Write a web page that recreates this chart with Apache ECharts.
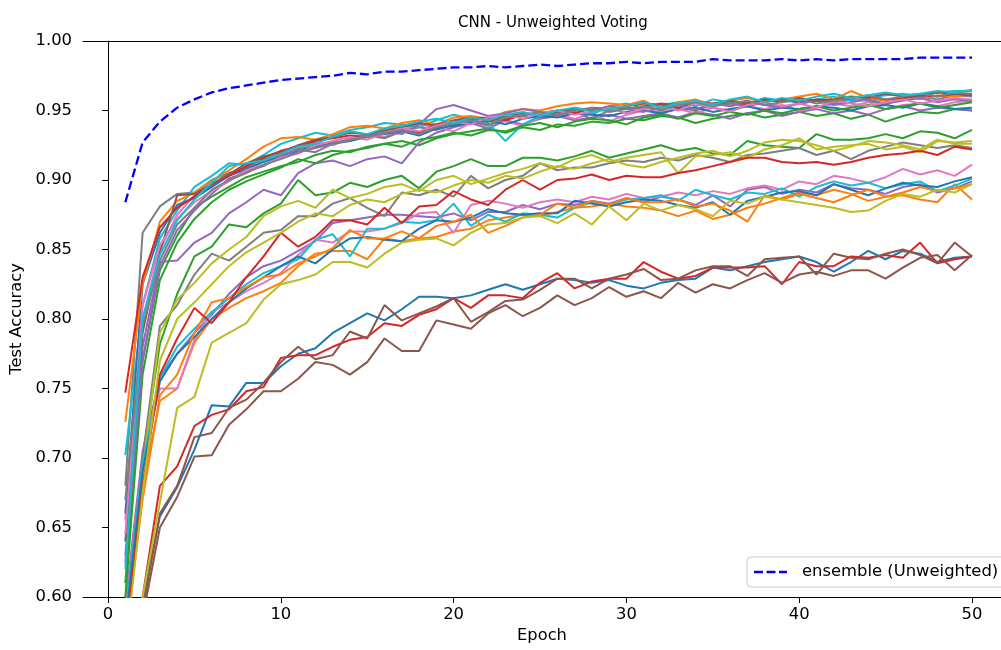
<!DOCTYPE html>
<html>
<head>
<meta charset="utf-8">
<title>CNN - Unweighted Voting</title>
<script src="https://cdn.jsdelivr.net/npm/echarts@6/dist/echarts.min.js"></script>
<style>
	html,body{margin:0;padding:0;background:#fff;}
	#chart{width:1001px;height:650px;}
</style>
</head>
<body>
<div id="chart"></div>
<script>
	var epochs = [1,2,3,4,5,6,7,8,9,10,11,12,13,14,15,16,17,18,19,20,21,22,23,24,25,
		26,27,28,29,30,31,32,33,34,35,36,37,38,39,40,41,42,43,44,45,46,47,48,49,50];

	var xTicks = [0,10,20,30,40,50];

	// ensemble accuracy per epoch
	var ensembleAcc = [0.884,0.927,0.942,0.952,0.958,0.963,0.966,0.968,0.970,0.972,
		0.973,0.974,0.975,0.977,0.976,0.978,0.978,0.979,0.980,0.981,
		0.981,0.982,0.981,0.982,0.983,0.982,0.983,0.984,0.984,0.985,
		0.984,0.985,0.985,0.985,0.987,0.986,0.986,0.986,0.987,0.986,
		0.987,0.986,0.987,0.987,0.987,0.987,0.988,0.988,0.988,0.988];

	// single models, in plotting order
	var m01 = [0.420,0.597,0.658,0.679,0.706,0.738,0.737,0.754,0.754,0.766,
		0.775,0.779,0.790,0.797,0.804,0.799,0.807,0.816,0.816,0.815,
		0.817,0.821,0.825,0.821,0.825,0.829,0.828,0.826,0.828,0.824,
		0.822,0.826,0.828,0.829,0.837,0.835,0.838,0.841,0.843,0.845,
		0.841,0.834,0.841,0.849,0.843,0.849,0.847,0.841,0.844,0.845];
	var m02 = [0.575,0.680,0.741,0.750,0.783,0.800,0.808,0.815,0.820,0.826,
		0.838,0.847,0.849,0.849,0.843,0.858,0.856,0.858,0.859,0.863,
		0.865,0.871,0.873,0.875,0.874,0.877,0.880,0.881,0.883,0.881,
		0.880,0.878,0.874,0.878,0.872,0.875,0.880,0.883,0.887,0.891,
		0.889,0.893,0.890,0.885,0.888,0.889,0.886,0.884,0.897,0.886];
	var m03 = [0.590,0.700,0.782,0.818,0.845,0.852,0.868,0.866,0.876,0.883,
		0.900,0.889,0.891,0.898,0.895,0.900,0.903,0.894,0.906,0.910,
		0.915,0.910,0.910,0.916,0.916,0.914,0.917,0.921,0.916,0.919,
		0.922,0.925,0.921,0.923,0.919,0.918,0.928,0.925,0.924,0.923,
		0.933,0.929,0.929,0.930,0.933,0.930,0.935,0.934,0.930,0.936];
	var m04 = [0.450,0.600,0.680,0.694,0.723,0.731,0.735,0.748,0.751,0.772,
		0.774,0.774,0.780,0.785,0.787,0.797,0.795,0.803,0.807,0.815,
		0.808,0.817,0.817,0.815,0.826,0.833,0.822,0.827,0.829,0.829,
		0.841,0.834,0.829,0.831,0.837,0.837,0.837,0.838,0.825,0.841,
		0.838,0.838,0.845,0.844,0.846,0.844,0.855,0.840,0.843,0.845];
	var m05 = [0.595,0.705,0.758,0.775,0.790,0.803,0.818,0.830,0.838,0.842,
		0.849,0.856,0.869,0.871,0.873,0.875,0.875,0.874,0.873,0.876,
		0.871,0.877,0.877,0.882,0.879,0.883,0.882,0.885,0.883,0.887,
		0.884,0.888,0.886,0.882,0.889,0.881,0.893,0.895,0.890,0.893,
		0.891,0.897,0.894,0.893,0.890,0.895,0.897,0.891,0.894,0.899];
	var m06 = [0.400,0.590,0.660,0.680,0.715,0.718,0.736,0.742,0.754,0.769,
		0.780,0.771,0.774,0.791,0.786,0.810,0.799,0.804,0.809,0.815,
		0.798,0.805,0.813,0.814,0.821,0.829,0.829,0.822,0.829,0.832,
		0.836,0.828,0.829,0.835,0.838,0.838,0.831,0.843,0.844,0.845,
		0.832,0.847,0.844,0.843,0.847,0.850,0.846,0.840,0.855,0.845];
	var m07 = [0.590,0.700,0.750,0.750,0.785,0.805,0.812,0.820,0.826,0.833,
		0.846,0.857,0.855,0.863,0.863,0.865,0.869,0.876,0.877,0.862,
		0.882,0.885,0.883,0.880,0.884,0.886,0.884,0.888,0.886,0.890,
		0.887,0.888,0.891,0.889,0.892,0.890,0.894,0.896,0.893,0.899,
		0.897,0.903,0.901,0.898,0.902,0.908,0.904,0.907,0.903,0.911];
	var m08 = [0.585,0.700,0.795,0.810,0.832,0.847,0.842,0.852,0.862,0.864,
		0.874,0.874,0.883,0.887,0.880,0.874,0.891,0.889,0.893,0.888,
		0.903,0.894,0.900,0.903,0.912,0.907,0.909,0.909,0.912,0.914,
		0.913,0.916,0.914,0.918,0.916,0.913,0.918,0.919,0.921,0.923,
		0.918,0.921,0.915,0.921,0.924,0.927,0.925,0.923,0.925,0.923];
	var m09 = [0.575,0.690,0.790,0.814,0.826,0.840,0.850,0.859,0.874,0.881,
		0.885,0.880,0.893,0.887,0.890,0.895,0.897,0.892,0.900,0.903,
		0.897,0.901,0.905,0.908,0.912,0.909,0.915,0.918,0.913,0.916,
		0.918,0.920,0.905,0.917,0.918,0.920,0.916,0.922,0.925,0.930,
		0.922,0.924,0.925,0.926,0.922,0.924,0.920,0.928,0.927,0.928];
	var m10 = [0.585,0.695,0.758,0.780,0.793,0.805,0.815,0.825,0.833,0.838,
		0.843,0.857,0.861,0.845,0.865,0.865,0.870,0.869,0.871,0.883,
		0.867,0.875,0.870,0.876,0.875,0.873,0.880,0.884,0.882,0.886,
		0.887,0.889,0.885,0.893,0.889,0.886,0.891,0.890,0.894,0.888,
		0.895,0.899,0.896,0.898,0.894,0.897,0.899,0.892,0.896,0.901];
	var m11 = [0.580,0.690,0.755,0.775,0.787,0.800,0.812,0.822,0.830,0.838,
		0.845,0.840,0.850,0.858,0.859,0.857,0.856,0.865,0.871,0.870,
		0.873,0.879,0.876,0.875,0.876,0.876,0.885,0.883,0.881,0.884,
		0.886,0.885,0.882,0.880,0.884,0.875,0.885,0.888,0.891,0.892,
		0.889,0.897,0.893,0.889,0.894,0.898,0.896,0.895,0.899,0.902];
	var m12 = [0.570,0.670,0.745,0.760,0.790,0.812,0.815,0.823,0.830,0.832,
		0.840,0.845,0.851,0.864,0.858,0.858,0.863,0.858,0.867,0.870,
		0.875,0.862,0.867,0.873,0.875,0.883,0.880,0.885,0.882,0.887,
		0.884,0.884,0.886,0.881,0.883,0.878,0.870,0.889,0.886,0.890,
		0.887,0.884,0.889,0.893,0.888,0.891,0.895,0.892,0.894,0.897];
	var m13 = [0.610,0.770,0.835,0.860,0.880,0.888,0.895,0.902,0.906,0.910,
		0.913,0.918,0.921,0.920,0.924,0.926,0.928,0.925,0.930,0.933,
		0.935,0.937,0.934,0.938,0.936,0.940,0.939,0.942,0.941,0.944,
		0.943,0.946,0.945,0.941,0.944,0.946,0.948,0.945,0.947,0.949,
		0.946,0.948,0.944,0.947,0.942,0.946,0.949,0.948,0.951,0.950];
	var m14 = [0.570,0.680,0.760,0.786,0.808,0.797,0.812,0.830,0.845,0.862,
		0.852,0.859,0.871,0.871,0.868,0.880,0.869,0.881,0.882,0.892,
		0.886,0.882,0.893,0.900,0.893,0.900,0.901,0.904,0.900,0.903,
		0.902,0.902,0.905,0.907,0.910,0.913,0.916,0.916,0.913,0.912,
		0.913,0.911,0.913,0.916,0.918,0.919,0.921,0.918,0.924,0.922];
	var m15 = [0.630,0.780,0.841,0.842,0.855,0.862,0.876,0.884,0.893,0.889,
		0.905,0.912,0.914,0.910,0.915,0.917,0.912,0.927,0.934,0.938,
		0.941,0.937,0.943,0.940,0.944,0.946,0.943,0.945,0.947,0.944,
		0.946,0.948,0.945,0.949,0.947,0.944,0.948,0.950,0.946,0.949,
		0.951,0.948,0.950,0.947,0.951,0.953,0.950,0.952,0.951,0.950];
	var m16 = [0.380,0.585,0.650,0.672,0.701,0.702,0.724,0.735,0.748,0.748,
		0.757,0.769,0.767,0.760,0.769,0.786,0.777,0.777,0.799,0.796,
		0.793,0.804,0.810,0.802,0.808,0.817,0.810,0.815,0.823,0.816,
		0.820,0.815,0.826,0.819,0.825,0.822,0.828,0.833,0.826,0.832,
		0.834,0.831,0.835,0.835,0.829,0.837,0.844,0.846,0.835,0.846];
	var m17 = [0.655,0.800,0.850,0.875,0.889,0.896,0.905,0.906,0.914,0.920,
		0.923,0.927,0.925,0.930,0.933,0.931,0.936,0.940,0.938,0.935,
		0.941,0.944,0.942,0.939,0.945,0.947,0.944,0.948,0.942,0.947,
		0.950,0.949,0.951,0.948,0.952,0.950,0.953,0.951,0.954,0.950,
		0.952,0.955,0.953,0.956,0.951,0.954,0.955,0.953,0.956,0.957];
	var m18 = [0.680,0.862,0.881,0.890,0.891,0.900,0.905,0.909,0.915,0.918,
		0.922,0.925,0.927,0.929,0.932,0.930,0.935,0.938,0.936,0.940,
		0.942,0.939,0.944,0.946,0.945,0.947,0.949,0.944,0.950,0.952,
		0.951,0.953,0.952,0.950,0.954,0.955,0.953,0.956,0.952,0.955,
		0.957,0.955,0.958,0.957,0.954,0.959,0.960,0.958,0.961,0.960];
	var m19 = [0.560,0.675,0.770,0.800,0.812,0.825,0.838,0.848,0.855,0.862,
		0.870,0.876,0.874,0.882,0.886,0.884,0.890,0.893,0.891,0.896,
		0.900,0.898,0.903,0.901,0.906,0.910,0.908,0.912,0.915,0.911,
		0.909,0.913,0.916,0.919,0.921,0.917,0.921,0.927,0.929,0.928,
		0.925,0.921,0.924,0.928,0.927,0.925,0.922,0.929,0.926,0.926];
	var m20 = [0.702,0.810,0.858,0.878,0.895,0.903,0.912,0.911,0.918,0.926,
		0.930,0.934,0.932,0.936,0.938,0.941,0.940,0.938,0.943,0.947,
		0.944,0.941,0.928,0.940,0.946,0.948,0.951,0.947,0.953,0.955,
		0.952,0.954,0.956,0.953,0.958,0.956,0.955,0.959,0.957,0.956,
		0.958,0.960,0.957,0.959,0.961,0.962,0.960,0.963,0.964,0.964];
	var m21 = [0.660,0.825,0.862,0.882,0.887,0.895,0.903,0.908,0.913,0.917,
		0.921,0.924,0.926,0.928,0.931,0.933,0.935,0.932,0.937,0.939,
		0.941,0.943,0.940,0.944,0.946,0.945,0.948,0.947,0.946,0.949,
		0.950,0.948,0.951,0.952,0.949,0.951,0.953,0.950,0.952,0.951,
		0.953,0.952,0.950,0.953,0.954,0.952,0.955,0.953,0.951,0.952];
	var m22 = [0.726,0.825,0.870,0.885,0.891,0.899,0.907,0.915,0.924,0.930,
		0.931,0.929,0.933,0.938,0.939,0.937,0.941,0.943,0.940,0.945,
		0.946,0.944,0.949,0.951,0.950,0.953,0.955,0.956,0.955,0.954,
		0.957,0.951,0.956,0.958,0.954,0.957,0.959,0.956,0.958,0.960,
		0.962,0.958,0.964,0.959,0.957,0.960,0.958,0.961,0.960,0.962];
	var m23 = [0.600,0.760,0.828,0.855,0.872,0.884,0.893,0.899,0.904,0.909,
		0.915,0.912,0.918,0.921,0.923,0.926,0.924,0.929,0.931,0.934,
		0.932,0.936,0.935,0.939,0.941,0.938,0.942,0.944,0.943,0.940,
		0.945,0.947,0.944,0.948,0.946,0.949,0.947,0.950,0.948,0.951,
		0.953,0.950,0.952,0.954,0.951,0.953,0.955,0.952,0.954,0.956];
	var m24 = [0.747,0.830,0.866,0.880,0.888,0.897,0.903,0.910,0.916,0.921,
		0.924,0.928,0.930,0.932,0.931,0.936,0.937,0.934,0.940,0.942,
		0.944,0.945,0.943,0.947,0.948,0.950,0.948,0.952,0.951,0.953,
		0.955,0.954,0.952,0.956,0.955,0.957,0.954,0.957,0.958,0.956,
		0.958,0.957,0.959,0.960,0.958,0.959,0.961,0.960,0.962,0.961];
	var m25 = [0.625,0.770,0.838,0.864,0.878,0.890,0.901,0.906,0.910,0.917,
		0.922,0.920,0.926,0.929,0.932,0.935,0.933,0.940,0.951,0.954,
		0.950,0.946,0.948,0.951,0.949,0.947,0.952,0.950,0.953,0.951,
		0.949,0.952,0.954,0.951,0.955,0.953,0.956,0.954,0.952,0.955,
		0.957,0.954,0.956,0.958,0.955,0.957,0.959,0.956,0.958,0.957];
	var m26 = [0.640,0.790,0.848,0.889,0.890,0.897,0.904,0.912,0.917,0.920,
		0.925,0.929,0.931,0.934,0.933,0.936,0.938,0.941,0.939,0.943,
		0.945,0.942,0.946,0.948,0.947,0.949,0.951,0.950,0.952,0.951,
		0.953,0.955,0.954,0.956,0.953,0.957,0.955,0.958,0.956,0.959,
		0.957,0.958,0.960,0.959,0.962,0.960,0.961,0.963,0.962,0.961];
	var m27 = [0.645,0.810,0.853,0.872,0.884,0.892,0.899,0.907,0.911,0.916,
		0.919,0.925,0.928,0.931,0.929,0.934,0.937,0.935,0.939,0.942,
		0.940,0.945,0.947,0.944,0.948,0.950,0.947,0.949,0.952,0.948,
		0.951,0.953,0.950,0.955,0.952,0.949,0.954,0.956,0.953,0.955,
		0.952,0.957,0.955,0.953,0.956,0.958,0.955,0.957,0.959,0.958];
	var m28 = [0.670,0.795,0.842,0.868,0.880,0.893,0.900,0.905,0.911,0.915,
		0.920,0.923,0.926,0.929,0.931,0.934,0.936,0.933,0.938,0.941,
		0.943,0.940,0.945,0.947,0.949,0.946,0.950,0.952,0.949,0.951,
		0.953,0.950,0.954,0.956,0.953,0.955,0.957,0.954,0.956,0.958,
		0.955,0.957,0.959,0.961,0.958,0.960,0.962,0.960,0.963,0.962];
	var m29 = [0.540,0.600,0.668,0.736,0.744,0.783,0.790,0.797,0.814,0.825,
		0.828,0.832,0.841,0.841,0.837,0.847,0.855,0.857,0.858,0.853,
		0.862,0.868,0.869,0.873,0.874,0.869,0.876,0.868,0.881,0.871,
		0.883,0.878,0.882,0.879,0.874,0.885,0.883,0.888,0.886,0.884,
		0.882,0.880,0.877,0.878,0.885,0.890,0.888,0.893,0.891,0.897];
	var m30 = [0.620,0.800,0.846,0.871,0.886,0.898,0.910,0.912,0.914,0.919,
		0.924,0.926,0.931,0.935,0.933,0.937,0.939,0.942,0.944,0.941,
		0.945,0.943,0.947,0.949,0.946,0.950,0.952,0.949,0.951,0.953,
		0.956,0.952,0.955,0.957,0.954,0.958,0.960,0.956,0.959,0.957,
		0.960,0.962,0.959,0.961,0.963,0.961,0.962,0.964,0.963,0.965];

	var modelRuns = [m01,m02,m03,m04,m05,m06,m07,m08,m09,m10,
		m11,m12,m13,m14,m15,m16,m17,m18,m19,m20,
		m21,m22,m23,m24,m25,m26,m27,m28,m29,m30];

	var tab10 = ['#1f77b4','#ff7f0e','#2ca02c','#d62728','#9467bd',
		'#8c564b','#e377c2','#7f7f7f','#bcbd22','#17becf'];

	var fontName = 'DejaVu Sans';
	// x range: matplotlib margins on the left, the figure is cut off on the right
	var xMin = -1.45, xMax = 51.68;

	pairUp = function(values){
		var out = [];
		for(var i = 0; i < epochs.length; i++){
			out.push([epochs[i], values[i]]);
		}
		return out;
	};

	var chart = echarts.init(document.getElementById('chart'), null, {renderer:'canvas'});

	var series = [];
	for(var i = 0; i < modelRuns.length; i++){
		series.push({
			name:'model ' + (i + 1),
			type:'line',
			data:pairUp(modelRuns[i]),
			symbol:'none',
			silent:true,
			z:2,
			lineStyle:{width:2, color:tab10[i % 10]},
			itemStyle:{color:tab10[i % 10]}
		});
	}
	series.push({
		name:'ensemble (Unweighted)',
		type:'line',
		data:pairUp(ensembleAcc),
		symbol:'none',
		z:3,
		lineStyle:{width:2.3, color:'#0000ff', type:[9, 4]},
		itemStyle:{color:'#0000ff'}
	});

	var option = {
		animation:false,
		backgroundColor:'#fff',
		color:tab10,
		title:{
			text:'CNN - Unweighted Voting',
			left:548,
			top:11,
			textAlign:'center',
			textStyle:{fontFamily:fontName, fontSize:15, fontWeight:'normal', color:'#000'}
		},
		legend:{
			data:[{
				name:'ensemble (Unweighted)',
				icon:'path://M0,0h9v2.4h-9zM12.5,0h9v2.4h-9zM25,0h8v2.4h-8z'
			}],
			left:747,
			top:557,
			padding:[6, 8, 6, 7],
			itemWidth:33,
			itemHeight:2.4,
			borderColor:'#cccccc',
			borderWidth:1,
			borderRadius:4,
			backgroundColor:'rgba(255,255,255,0.8)',
			itemStyle:{color:'#0000ff'},
			textStyle:{fontFamily:fontName, fontSize:16.4, color:'#000', padding:[0, 0, 0, 10], lineHeight:18}
		},
		grid:{
			left:83,
			right:0,
			top:41,
			bottom:53,
			show:false
		},
		xAxis:[{
			type:'value',
			min:xMin,
			max:xMax,
			name:'Epoch',
			nameLocation:'middle',
			nameGap:30,
			nameTextStyle:{fontFamily:fontName, fontSize:16.3, color:'#000'},
			axisLine:{show:true, lineStyle:{color:'#000', width:1}},
			axisTick:{show:true, length:6, customValues:xTicks, lineStyle:{color:'#000'}},
			axisLabel:{customValues:xTicks, margin:10, fontFamily:fontName, fontSize:16.4, color:'#000'},
			splitLine:{show:false}
		},{
			// top spine only
			type:'value',
			position:'top',
			min:xMin,
			max:xMax,
			axisLine:{show:true, onZero:false, lineStyle:{color:'#000', width:1}},
			axisTick:{show:false},
			axisLabel:{show:false},
			splitLine:{show:false}
		}],
		yAxis:{
			type:'value',
			min:0.6,
			max:1.0,
			interval:0.05,
			name:'Test Accuracy',
			nameLocation:'middle',
			nameGap:56,
			nameRotate:90,
			nameTextStyle:{fontFamily:fontName, fontSize:16.3, color:'#000'},
			axisLine:{show:true, lineStyle:{color:'#000', width:1}},
			axisTick:{show:true, length:6, lineStyle:{color:'#000'}},
			axisLabel:{
				margin:11,
				fontFamily:fontName,
				fontSize:16.4,
				color:'#000',
				formatter:function(v){ return v.toFixed(2); }
			},
			splitLine:{show:false}
		},
		series:series
	};

	chart.setOption(option);
</script>
</body>
</html>
